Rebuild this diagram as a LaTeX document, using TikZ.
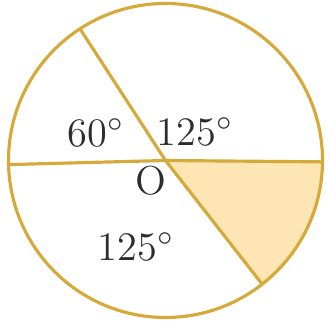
\documentclass[tikz,border=0pt]{standalone}
\usepackage{tikz}
\usepackage{xcolor}
\usetikzlibrary{calc}
\definecolor{rimgold}{RGB}{214,170,58}
\definecolor{sectorfill}{RGB}{253,229,180}
\definecolor{labelgray}{RGB}{45,45,45}

\begin{document}
\begin{tikzpicture}[x=0.1mm,y=0.1mm,
  rim/.style={draw=rimgold,line width=0.9pt},
  anglelabel/.style={text=labelgray,font=\fontsize{11.5}{13}\selectfont,inner sep=0pt}]
\useasboundingbox (0,0) rectangle (329,324);
\coordinate (O) at (165.5,163.5);
\foreach \n/\a in {W/181.5,NW/123,E/-0.5,SE/-52}{\coordinate (\n) at ($(O)+(\a:157)$);}
\fill[sectorfill] (O) -- (SE) arc[start angle=-52,end angle=-0.5,radius=157] -- cycle;
\draw[rim] (O) circle[radius=157];
\foreach \n in {W,NW,E,SE}{\draw[rim] (O) -- (\n);}
\node[anglelabel] (a60) at (96,191) {60$^{\circ}$};
\node[anglelabel] (a125top) at (195,192) {125$^{\circ}$};
\node[anglelabel] (olabel) at (151,143) {O};
\node[anglelabel] (a125low) at (136,77) {125$^{\circ}$};
\end{tikzpicture}
\end{document}
